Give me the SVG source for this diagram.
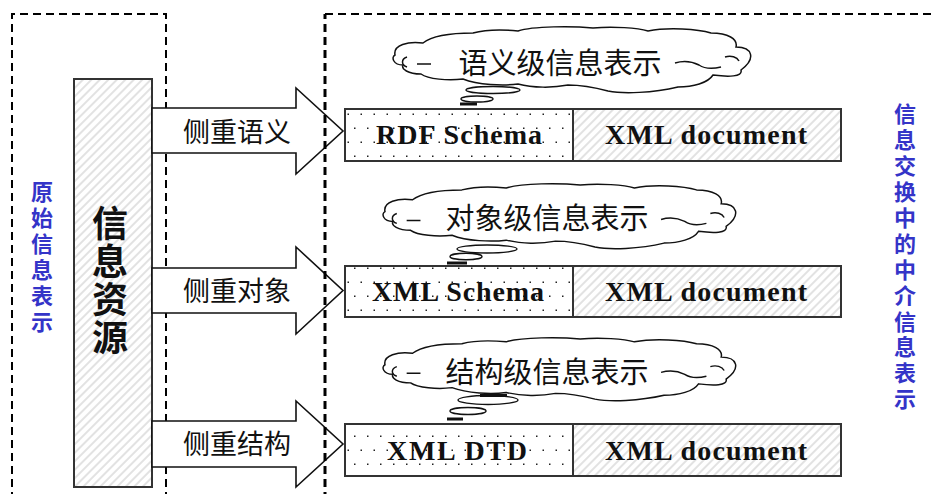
<svg xmlns="http://www.w3.org/2000/svg" xmlns:xlink="http://www.w3.org/1999/xlink" width="932" height="494" viewBox="0 0 932 494">
<defs>
<pattern id="hatch" width="6" height="6" patternUnits="userSpaceOnUse" patternTransform="rotate(45)">
<line x1="1" y1="0" x2="1" y2="6" stroke="#d6d6d6" stroke-width="1.4"/>
</pattern>
<pattern id="dots" width="13" height="28" patternUnits="userSpaceOnUse" x="345" y="110">
<rect x="2.5" y="3.5" width="1.5" height="1.5" fill="#222"/>
<rect x="9" y="17.5" width="1.5" height="1.5" fill="#222"/>
</pattern>
<g id="cloud">
<path class="cl" d="M2,28 C0,18 15,14 30,16 C40,8 60,6 80,6 C95,2 115,3 125,4 C140,-1 180,-1 200,1 C220,-1 245,1 255,4 C275,0 305,2 318,6 C335,6 345,12 343,20 C360,20 363,32 348,43 C350,50 335,50 320,48 C315,56 300,60 285,60 C260,66 230,67 215,64 C200,60 185,58 175,58 C160,61 140,61 125,57 C110,59 85,58 70,52 C55,54 35,52 28,47 C15,47 8,42 10,38 C0,38 -2,30 2,28 Z"/>
<path class="cli" d="M14,30 C8,32 8,38 14,40 M24,37 L38,37 M282,36 C292,33 300,35 306,38 C312,42 320,42 328,40 M332,30 C338,28 344,30 346,34"/>
</g>
</defs>
<style>
.dash{fill:none;stroke:#000;stroke-width:2;stroke-dasharray:8 5}
.dashb{fill:none;stroke:#000;stroke-width:3;stroke-dasharray:8 5}
.arrow{fill:#fff;stroke:#111;stroke-width:1.6;stroke-linejoin:miter}
.cl{fill:#fff;stroke:#111;stroke-width:1.5}
.cli{fill:none;stroke:#111;stroke-width:1.5}
.trail{fill:#fff;stroke:#111;stroke-width:1.4}
.bold{stroke:#111;stroke-width:3}
.box{stroke:#333;stroke-width:2}
.cjk{font-family:"Noto Sans CJK SC","Noto Sans",sans-serif;fill:#111;text-anchor:middle}
.vert{writing-mode:vertical-rl;text-anchor:start}
.src{font-family:"Noto Sans CJK SC",sans-serif;font-weight:bold;font-size:36px;fill:#111;letter-spacing:2px}
.blue{font-family:"Noto Sans CJK SC",sans-serif;font-weight:bold;fill:#3434c8;font-size:22px}
.en{font-family:"Liberation Serif",serif;font-weight:bold;font-size:28px;fill:#111;text-anchor:middle}
</style>
<rect x="0" y="0" width="932" height="494" fill="#fff"/>

<g id="left-frame">
<path class="dash" d="M12,500 L12,14 L166,14 L166,500"/>
</g>

<g id="source">
<rect x="74" y="79" width="78" height="408" fill="url(#hatch)" class="box"/>
<text class="src vert" x="110" y="205">信息资源</text>
</g>

<g id="connectors">
<polygon class="arrow" points="152,108 296,108 296,88 343,131 296,174 296,153 152,153"/>
<polygon class="arrow" points="152,268 296,268 296,247 343,290.5 296,334 296,313 152,313"/>
<polygon class="arrow" points="152,421 296,421 296,401 343,444 296,487 296,467 152,467"/>
<text class="cjk" font-size="27" x="237" y="142">侧重语义</text>
<text class="cjk" font-size="27" x="237" y="301">侧重对象</text>
<text class="cjk" font-size="27" x="237" y="454">侧重结构</text>
</g>

<g id="right-frame">
<path class="dashb" d="M325,500 L325,14"/>
<path class="dash" d="M325,14 L935,14"/>
</g>

<g id="cloud1">
<use xlink:href="#cloud" transform="translate(393,27)"/>
<ellipse class="trail" cx="493" cy="90" rx="27" ry="3.5"/>
<ellipse class="trail" cx="477" cy="99" rx="16" ry="3"/>
<line class="bold" x1="460" y1="104" x2="477" y2="104"/>
<text class="cjk" font-size="29" x="560" y="74">语义级信息表示</text>
</g>

<g id="cloud2">
<use xlink:href="#cloud" transform="translate(383,184) scale(0.986,0.985)"/>
<ellipse class="trail" cx="487" cy="249" rx="30" ry="4"/>
<ellipse class="trail" cx="466" cy="256.5" rx="16" ry="3.2"/>
<line class="bold" x1="447" y1="263" x2="467" y2="263"/>
<text class="cjk" font-size="29" x="547" y="229">对象级信息表示</text>
</g>

<g id="cloud3">
<use xlink:href="#cloud" transform="translate(383,338) scale(0.986,0.955)"/>
<ellipse class="trail" cx="488" cy="400" rx="30" ry="4.5"/>
<line class="bold" x1="480" y1="395.5" x2="507" y2="395.5"/>
<ellipse class="trail" cx="468" cy="411" rx="18" ry="3.5"/>
<line class="bold" x1="447" y1="419" x2="463" y2="419"/>
<text class="cjk" font-size="29" x="547" y="383">结构级信息表示</text>
</g>

<g id="box1">
<rect x="345" y="109" width="228" height="52" fill="#fff" class="box"/>
<rect x="345" y="109" width="228" height="52" fill="url(#dots)" class="box"/>
<rect x="573" y="109" width="268" height="52" fill="url(#hatch)" class="box"/>
<text class="en" x="459" y="144" textLength="166" lengthAdjust="spacing">RDF Schema</text>
<text class="en" x="706" y="144" textLength="202" lengthAdjust="spacing">XML document</text>
</g>

<g id="box2">
<rect x="345" y="266" width="228" height="51" fill="#fff" class="box"/>
<rect x="345" y="266" width="228" height="51" fill="url(#dots)" class="box"/>
<rect x="573" y="266" width="268" height="51" fill="url(#hatch)" class="box"/>
<text class="en" x="458" y="301" textLength="172" lengthAdjust="spacing">XML Schema</text>
<text class="en" x="706" y="301" textLength="202" lengthAdjust="spacing">XML document</text>
</g>

<g id="box3">
<rect x="345" y="424" width="228" height="52" fill="#fff" class="box"/>
<rect x="345" y="424" width="228" height="52" fill="url(#dots)" class="box"/>
<rect x="573" y="424" width="268" height="52" fill="url(#hatch)" class="box"/>
<text class="en" x="457" y="460" textLength="140" lengthAdjust="spacing">XML DTD</text>
<text class="en" x="706" y="460" textLength="202" lengthAdjust="spacing">XML document</text>
</g>

<g id="label-left">
<text class="blue vert" x="42" y="181" letter-spacing="4">原始信息表示</text>
</g>

<g id="label-right">
<text class="blue vert" x="905" y="103" letter-spacing="3.9">信息交换中的中介信息表示</text>
</g>
</svg>
